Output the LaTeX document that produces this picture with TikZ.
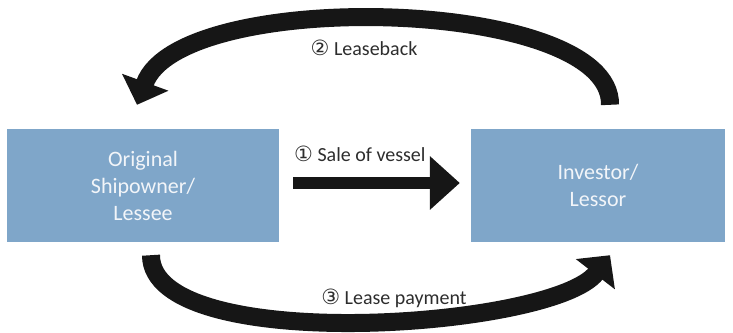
\documentclass[tikz,border=0pt]{standalone}
\usepackage{fontspec}
\setmainfont{Carlito}
\newfontfamily\circfont{DejaVu Sans}
\usetikzlibrary{arrows.meta}

\definecolor{cajaazul}{RGB}{127,166,201}
\definecolor{textocaja}{RGB}{242,245,249}
\definecolor{flecha}{RGB}{22,22,22}
\definecolor{etiqueta}{RGB}{45,45,45}

\tikzset{
  caja/.style={fill=cajaazul, draw=none, text=textocaja, align=center,
    font=\fontsize{22}{27}\selectfont},
  etiq/.style={text=etiqueta, font=\fontsize{20}{24}\selectfont, inner sep=0pt},
  curva/.style={draw=flecha, line width=18pt,
    -{Triangle[length=24pt,width=48pt]}},
  recta/.style={draw=flecha, line width=12pt,
    -{Triangle[length=30pt,width=52pt]}}
}
\newcommand{\paso}[1]{{\circfont\fontsize{21}{21}\selectfont #1}}

\begin{document}
\begin{tikzpicture}[x=1pt,y=1pt]
    \useasboundingbox (0,0) rectangle (733,332);

    % Armador original y arrendador
    \node[caja, minimum width=272pt, minimum height=113pt] (armador) at (143,146.5)
      {Original\\Shipowner/\\Lessee};
    \node[caja, minimum width=254pt, minimum height=113pt] (inversor) at (598,146.5)
      {Investor/\\Lessor};

    % Venta del buque
    \draw[recta] ([xshift=14pt,yshift=2.5pt]armador.east) -- ([xshift=-11pt,yshift=2.5pt]inversor.west);
    \node[etiq, anchor=base west] (venta) at (294,170) {\paso{①} Sale of vessel};

    % Arrendamiento posterior (arriba)
    \draw[curva] ([xshift=12pt,yshift=24pt]inversor.north)
      .. controls +(2,108) and (180,345) .. ([xshift=-6pt,yshift=24pt]armador.north);
    \node[etiq] (retro) at (364,284) {\paso{②} Leaseback};

    % Pago del arriendo (abajo)
    \draw[curva] ([xshift=8pt,yshift=-13pt]armador.south)
      .. controls +(0,-101) and (553,3) .. ([xshift=12pt,yshift=-13pt]inversor.south);
    \node[etiq] (pago) at (394,34) {\paso{③} Lease payment};
\end{tikzpicture}
\end{document}
